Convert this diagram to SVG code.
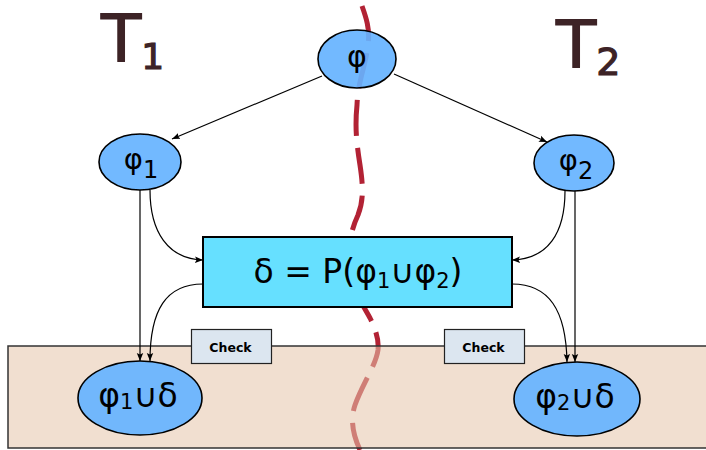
<svg xmlns="http://www.w3.org/2000/svg" width="706" height="450" viewBox="0 0 706 450">
<style>
.ell{fill:#66b3ff;fill-opacity:0.92;stroke:#000;stroke-width:1.6}
.t{font-family:"DejaVu Sans",sans-serif;fill:#000;text-anchor:middle}
.tl{font-family:"DejaVu Sans",sans-serif;fill:#3d2326;stroke:#3d2326;stroke-width:1.2}
.chk{fill:#dce6f0;stroke:#222;stroke-width:1.2}
.ct{font-family:"DejaVu Sans",sans-serif;font-weight:bold;font-size:12.5px;fill:#000;text-anchor:middle}
.c{fill:none;stroke:#000;stroke-width:1.2;marker-end:url(#ah)}
</style>
<defs>
<marker id="ah" viewBox="0 0 10 10" refX="10" refY="5" markerWidth="8" markerHeight="8" markerUnits="userSpaceOnUse" orient="auto">
<path d="M0,1 L10,5 L0,9 L2,5 Z" fill="#000"/>
</marker>
</defs>
<rect width="706" height="450" fill="#fff"/>
<path id="border" d="M362,6 C367,20 370,30 368,45 C366,65 358,80 357,105 C355,125 356,140 360,165 C363,185 364,200 358,215 C352,228 349,240 349,260 C349,285 360,300 370,318 C376,330 379,340 378,350 C376,365 362,385 355,405 C350,420 353,435 360,450" fill="none" stroke="#b22234" stroke-width="5" stroke-dasharray="36,12"/>
<rect id="zone" x="8" y="346" width="700" height="102" fill="#e6c6ab" fill-opacity="0.56" stroke="#333" stroke-width="1.5"/>
<g id="labelT1"><text class="tl" x="101" y="62" font-size="66">T<tspan font-size="36" dy="7">1</tspan></text></g>
<g id="labelT2"><text class="tl" x="556" y="68" font-size="66">T<tspan font-size="38" dy="7">2</tspan></text></g>
<g id="connectors">
<line class="c" x1="322" y1="76" x2="172" y2="139"/>
<line class="c" x1="394" y1="74" x2="547" y2="142"/>
<line class="c" x1="140" y1="190" x2="140" y2="361"/>
<path class="c" d="M150,190 C150,232 168,259 203,260"/>
<path class="c" d="M203,284 C166,284 150,310 150,361"/>
<line class="c" x1="575" y1="191" x2="575" y2="362"/>
<path class="c" d="M565,191 C565,233 548,259 512,260"/>
<path class="c" d="M512,284 C549,284 566,310 567,362"/>
</g>
<g id="phi"><ellipse class="ell" cx="357" cy="59" rx="39" ry="29"/><text class="t" x="357" y="67" font-size="30">φ</text></g>
<g id="phi1"><ellipse class="ell" cx="140" cy="162" rx="41" ry="28"/><text class="t" x="141" y="169" font-size="29">φ<tspan font-size="24" dy="9">1</tspan></text></g>
<g id="phi2"><ellipse class="ell" cx="574" cy="163" rx="40" ry="28"/><text class="t" x="576" y="170" font-size="29">φ<tspan font-size="24" dy="9">2</tspan></text></g>
<g id="delta"><rect x="203" y="237" width="309" height="70" fill="#66e0ff" stroke="#000" stroke-width="2"/><text class="t" x="358" y="283" font-size="33">δ = P(φ<tspan font-size="21" dy="5">1</tspan><tspan dy="-5">∪φ</tspan><tspan font-size="21" dy="5">2</tspan><tspan dy="-5">)</tspan></text></g>
<g id="check1"><rect class="chk" x="191.5" y="329.5" width="80" height="34"/><text class="ct" x="230.5" y="351.5">Check</text></g>
<g id="check2"><rect class="chk" x="444.5" y="329.5" width="80" height="34"/><text class="ct" x="483.5" y="351.5">Check</text></g>
<g id="phi1d"><ellipse class="ell" cx="140" cy="398" rx="62" ry="37"/><text class="t" x="138" y="407" font-size="33">φ<tspan font-size="21" dy="2">1</tspan><tspan dy="-2">∪δ</tspan></text></g>
<g id="phi2d"><ellipse class="ell" cx="577" cy="399" rx="63" ry="37"/><text class="t" x="575" y="408" font-size="33">φ<tspan font-size="21" dy="2">2</tspan><tspan dy="-2">∪δ</tspan></text></g>
</svg>
